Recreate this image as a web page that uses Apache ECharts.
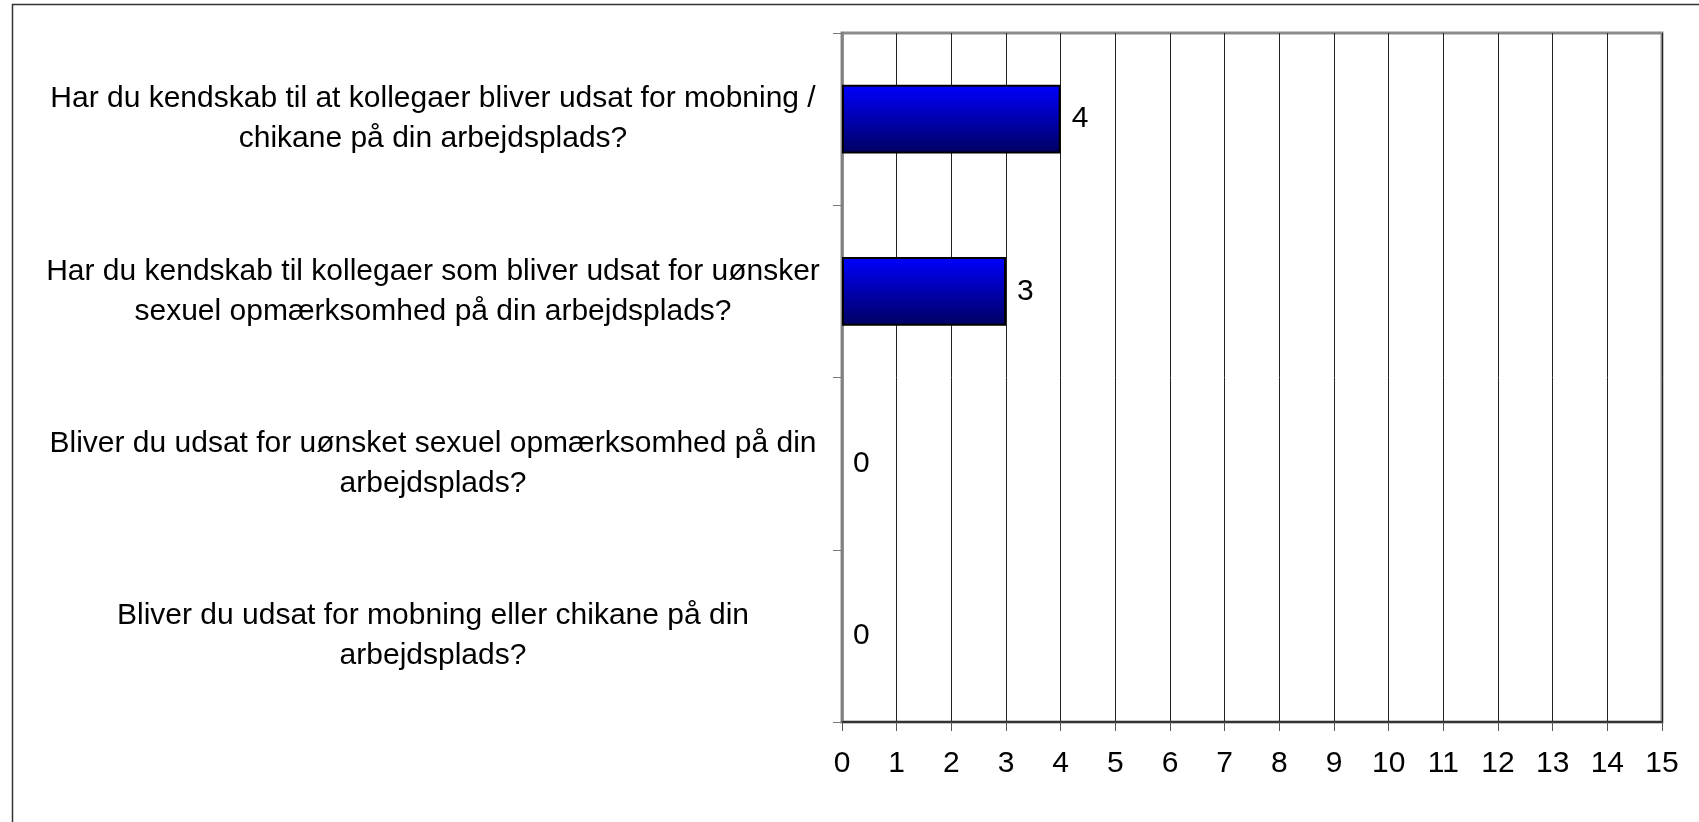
<!DOCTYPE html>
<html>
<head>
<meta charset="utf-8">
<script src="https://cdn.jsdelivr.net/npm/echarts@6/dist/echarts.min.js"></script>
<style>
  html, body { margin: 0; padding: 0; background: #fff; }
  #chart { width: 1699px; height: 822px; }
</style>
</head>
<body>
<div id="chart"></div>
<script>
// spoergsmaal, oeverst foerst
var questions = [
  'Har du kendskab til at kollegaer bliver udsat for mobning /\nchikane på din arbejdsplads?',
  'Har du kendskab til kollegaer som bliver udsat for uønsker\nsexuel opmærksomhed på din arbejdsplads?',
  'Bliver du udsat for uønsket sexuel opmærksomhed på din\narbejdsplads?',
  'Bliver du udsat for mobning eller chikane på din\narbejdsplads?'
];
var answers = [4, 3, 0, 0];
var xMin = 0, xMax = 15, xStep = 1;

var font = '"Liberation Sans", Arial, sans-serif';

var chart = echarts.init(document.getElementById('chart'));

var barData = answers.map(function (v) {
  // ingen kant paa tomme soejler
  return v === 0 ? { value: v, itemStyle: { borderWidth: 0 } } : v;
});

var option = {
  backgroundColor: '#fff',
  animation: false,
  graphic: [{
    type: 'rect',
    shape: { x: 12.5, y: 4.5, width: 1720, height: 900 },
    style: { fill: 'none', stroke: '#333', lineWidth: 1.5 },
    silent: true
  }],
  grid: {
    left: 842, top: 33, right: 37, bottom: 100,
    show: true, borderColor: '#8c8c8c', borderWidth: 3
  },
  xAxis: {
    type: 'value',
    min: xMin, max: xMax, interval: xStep,
    axisLine: { show: true, lineStyle: { color: '#333', width: 2 } },
    axisTick: { show: true, length: 9, lineStyle: { color: '#555', width: 1 } },
    axisLabel: { fontFamily: font, fontSize: 30, color: '#000', margin: 27 },
    splitLine: { show: true, lineStyle: { color: '#222', width: 1 } }
  },
  yAxis: {
    type: 'category',
    inverse: true,
    data: questions,
    axisLine: { show: true, lineStyle: { color: '#808080', width: 2.5 } },
    axisTick: { show: true, length: 9, lineStyle: { color: '#777', width: 1 } },
    axisLabel: {
      interval: 0,
      fontFamily: font, fontSize: 30, color: '#000',
      align: 'center', margin: 409, lineHeight: 40,
      padding: [0, 0, 6, 0]
    },
    splitLine: { show: false }
  },
  series: [{
    type: 'bar',
    data: barData,
    barWidth: '40%',
    itemStyle: {
      color: new echarts.graphic.LinearGradient(0, 0, 0, 1, [
        { offset: 0, color: '#0000ff' },
        { offset: 1, color: '#000060' }
      ]),
      borderColor: '#000',
      borderWidth: 2
    },
    label: {
      show: true,
      position: 'right',
      distance: 11,
      fontFamily: font, fontSize: 30, color: '#000'
    }
  }]
};

chart.setOption(option);
</script>
</body>
</html>
